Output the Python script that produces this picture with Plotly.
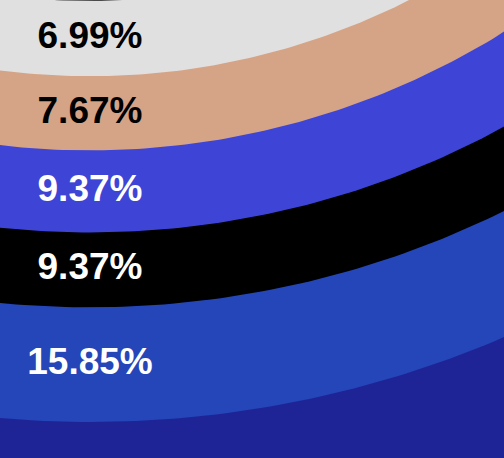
import numpy as np
import plotly.graph_objects as go

# Categories ordered from the centre outwards (ring area is proportional to share)
categories = ["Cat 1", "Cat 2", "Cat 3", "Cat 4", "Cat 5", "Cat 6",
              "Cat 7", "Cat 8", "Cat 9", "Cat 10", "Cat 11", "Cat 12"]
shares = [2.41, 3.45, 4.86, 5.21, 5.74, 6.12,
          6.99, 7.67, 9.37, 9.37, 15.85, 22.96]
colors = ["#8c8c8c", "#b0b0b0", "#6b6b6b", "#9a9a9a", "#7a7a7a", "#4a4a4a",
          "#e0e0e0", "#d5a386", "#3d44d6", "#000000", "#2446b8", "#1e2496"]
text_colors = ["white", "black", "white", "black", "white", "white",
               "black", "black", "white", "white", "white", "white"]

Y_RANGE = [-9.077, -5.263]
X_RANGE = [-0.7495, 3.4477]

shares_arr = np.array(shares)
cum = np.cumsum(shares_arr)
r_out = np.sqrt(cum)
r_in = np.sqrt(cum - shares_arr)

theta = np.linspace(0, 2 * np.pi, 721)

fig = go.Figure()

# Filled disks, drawn from the outermost to the innermost
for i in range(len(categories) - 1, -1, -1):
    fig.add_trace(go.Scatter(
        x=r_out[i] * np.cos(theta),
        y=r_out[i] * np.sin(theta),
        mode="lines",
        fill="toself",
        fillcolor=colors[i],
        line=dict(width=0, color=colors[i]),
        name=categories[i],
        hoverinfo="skip",
        showlegend=False,
    ))

# Percentage labels at the bottom of each ring (only those inside the view)
label_y = -(r_in + r_out) / 2
visible = (label_y > Y_RANGE[0]) & (label_y < Y_RANGE[1])
fig.add_trace(go.Scatter(
    x=np.zeros(int(visible.sum())),
    y=label_y[visible],
    mode="text",
    text=[f"{s:.2f}%" for s, v in zip(shares, visible) if v],
    textposition="middle center",
    textfont=dict(family="Liberation Sans, Arial, sans-serif", size=37,
                  color=[c for c, v in zip(text_colors, visible) if v],
                  weight="bold"),
    hoverinfo="skip",
    showlegend=False,
))

fig.update_layout(
    width=504,
    height=458,
    margin=dict(l=0, r=0, t=0, b=0),
    paper_bgcolor="white",
    plot_bgcolor="white",
    xaxis=dict(range=X_RANGE, visible=False, fixedrange=True),
    yaxis=dict(range=Y_RANGE, visible=False, fixedrange=True),
    showlegend=False,
)

fig.write_html(
    "out.html",
    config={"displayModeBar": False},
    post_script="document.body.style.margin='0';document.body.style.overflow='hidden';",
)
